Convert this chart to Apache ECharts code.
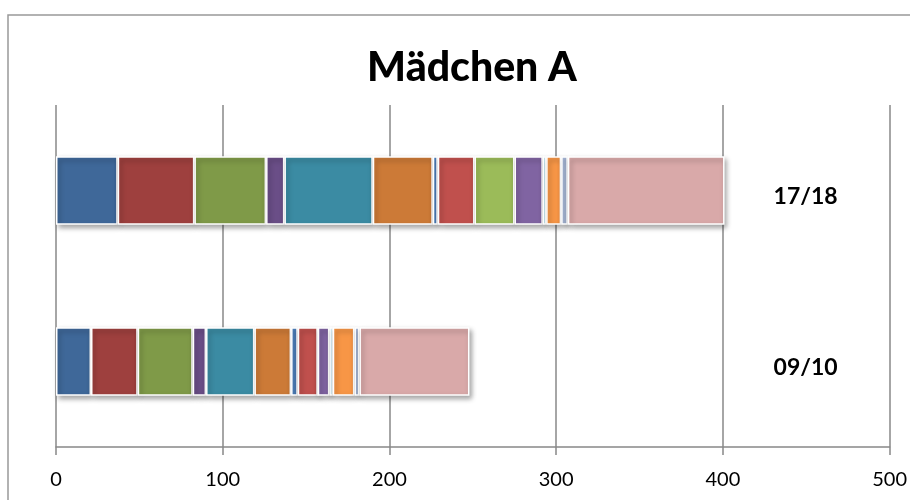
<!DOCTYPE html>
<html>
<head>
<meta charset="utf-8">
<script src="https://cdn.jsdelivr.net/npm/echarts@6/dist/echarts.min.js"></script>
<style>html,body{margin:0;padding:0;background:#fff;}#c{width:910px;height:500px;}</style>
</head>
<body>
<div id="c"></div>
<script>
const categories = ['09/10', '17/18'];
const xTicks = [0, 100, 200, 300, 400, 500];
const s1 = [21, 37];
const s2 = [28, 46];
const s3 = [33, 43];
const s4 = [8, 11];
const s5 = [29, 53];
const s6 = [22, 36];
const s7 = [4, 3];
const s8 = [12, 22];
const s9 = [0, 24];
const s10 = [7, 17];
const s11 = [2, 2];
const s12 = [13, 9];
const s13 = [3, 4];
const s14 = [66, 94];
const seriesValues = [s1, s2, s3, s4, s5, s6, s7, s8, s9, s10, s11, s12, s13, s14];
const colors = ['#3F6899', '#9E403E', '#7F9A48', '#6A4E87', '#3B8BA3', '#CC7A37',
                '#4F81BD', '#C0504D', '#9BBB59', '#8064A2', '#4BACC6', '#F79646',
                '#A9B9D9', '#D9A9A9'];

const chart = echarts.init(document.getElementById('c'));
chart.setOption({
  animation: false,
  backgroundColor: '#fff',
  title: {
    text: 'Mädchen A',
    left: 467, top: 42, textAlign: 'center',
    textStyle: { fontFamily: 'Lato', fontWeight: 900, fontSize: 41, color: '#000' }
  },
  graphic: [{
    type: 'polyline',
    shape: { points: [[8, 500], [8, 15], [910, 15]] },
    style: { stroke: '#999', lineWidth: 1.5, fill: null }
  }],
  grid: { left: 56, right: 16, top: 105, bottom: 53 },
  xAxis: {
    type: 'value', min: 0, max: 500, interval: 100,
    axisLine: { show: true, lineStyle: { color: '#888', width: 1.5 } },
    axisTick: { show: true, length: 8, lineStyle: { color: '#888', width: 1.5 } },
    splitLine: { show: true, lineStyle: { color: '#888', width: 1.5 } },
    axisLabel: {
      margin: 23, fontFamily: 'Lato', fontSize: 20, color: '#000',
      formatter: v => xTicks.includes(v) ? String(v) : ''
    }
  },
  yAxis: {
    type: 'category', data: categories, position: 'right',
    axisLine: { show: false }, axisTick: { show: false },
    axisLabel: {
      inside: true, align: 'center', margin: 84,
      formatter: v => '{a|' + v + '}',
      rich: { a: { padding: [13, 0, 0, 0], fontFamily: 'Lato', fontWeight: 'bold', fontSize: 23, color: '#000' } }
    }
  },
  series: seriesValues.map((d, i) => ({
    type: 'bar', stack: 'total', name: 'Reihe ' + (i + 1),
    data: d, barWidth: '40%',
    itemStyle: {
      color: colors[i], borderColor: '#fff', borderWidth: 1.5,
      shadowColor: 'rgba(0,0,0,0.35)', shadowBlur: 5, shadowOffsetX: 2, shadowOffsetY: 3
    }
  }))
});
</script>
</body>
</html>
